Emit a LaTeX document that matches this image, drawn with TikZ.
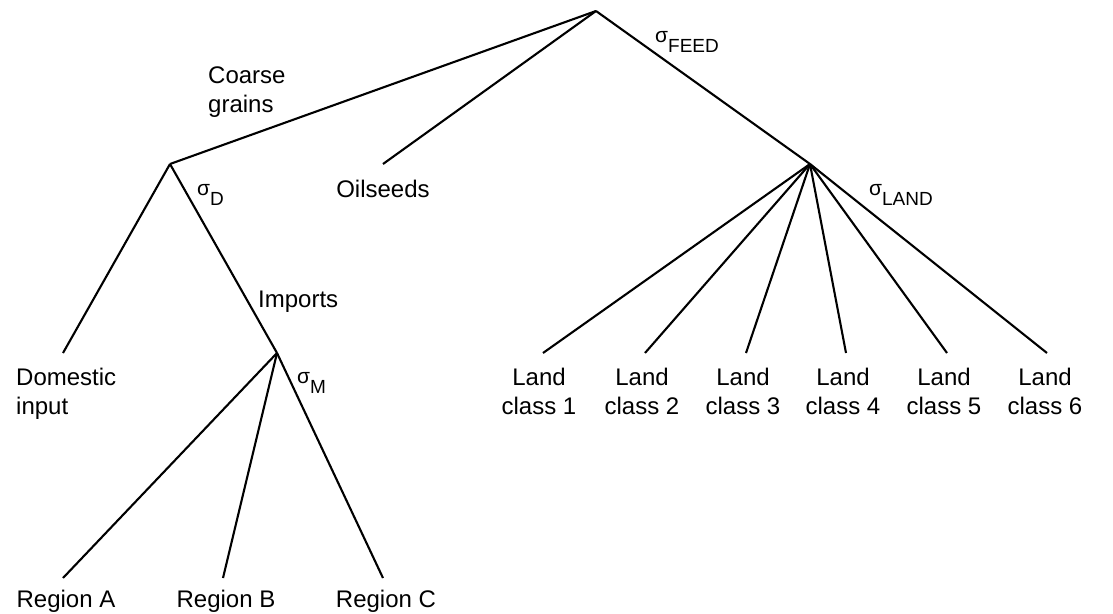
\documentclass[tikz,border=0pt]{standalone}
\usepackage{fontspec}
\setmainfont{Liberation Sans}
\newcommand\sigsub[1]{σ\raisebox{-10pt}{\fontsize{19}{22}\selectfont #1}}
\begin{document}
\begin{tikzpicture}[x=1pt,y=-1pt,
  edge/.style={line width=2.1pt},
  lbl/.style={font=\fontsize{24}{29}\selectfont, inner sep=0pt, align=center, anchor=north},
  sig/.style={font=\fontsize{21}{24}\selectfont, inner sep=0pt, anchor=base west}]
\useasboundingbox (0,0) rectangle (1113,613);
% internal nodes
\coordinate (top) at (596,11);
\coordinate (cg) at (170,164);
\coordinate (feed) at (810,164);
\coordinate (imp) at (277,353);
% free ends
\coordinate (oilE) at (383,164);
\coordinate (domE) at (63,353);
\coordinate (raE) at (63,578);
\coordinate (rbE) at (223,578);
\coordinate (rcE) at (383,578);
\coordinate (l1E) at (543,353);
\coordinate (l2E) at (645,353);
\coordinate (l3E) at (746,353);
\coordinate (l4E) at (846,353);
\coordinate (l5E) at (947,353);
\coordinate (l6E) at (1047,353);
% labels
\node[lbl,anchor=north west,align=left] (cgl) at (208,67) {Coarse\\grains};
\node[lbl] (oil) at (383,180) {Oilseeds};
\node[lbl,anchor=north west,align=left] (dom) at (16,368) {Domestic\\input};
\node[lbl,anchor=north west] (impl) at (258,291) {Imports};
\node[lbl] (l1) at (539,368) {Land\\class 1};
\node[lbl] (l2) at (642,368) {Land\\class 2};
\node[lbl] (l3) at (743,368) {Land\\class 3};
\node[lbl] (l4) at (843,368) {Land\\class 4};
\node[lbl] (l5) at (944,368) {Land\\class 5};
\node[lbl] (l6) at (1045,368) {Land\\class 6};
\node[lbl] (ra) at (66,590) {Region A};
\node[lbl] (rb) at (226,590) {Region B};
\node[lbl] (rc) at (386,590) {Region C};
% sigma labels
\node[sig] (sf) at (655,42) {\sigsub{FEED}};
\node[sig] (sl) at (869,195) {\sigsub{LAND}};
\node[sig] (sd) at (197,195) {\sigsub{D}};
\node[sig] (sm) at (297,383) {\sigsub{M}};
% connectors
\draw[edge] (top) -- (cg);
\draw[edge] (top) -- (oilE);
\draw[edge] (top) -- (feed);
\draw[edge] (cg) -- (domE);
\draw[edge] (cg) -- (imp);
\draw[edge] (imp) -- (raE);
\draw[edge] (imp) -- (rbE);
\draw[edge] (imp) -- (rcE);
\foreach \k in {1,...,6} \draw[edge] (feed) -- (l\k E);
\end{tikzpicture}
\end{document}
